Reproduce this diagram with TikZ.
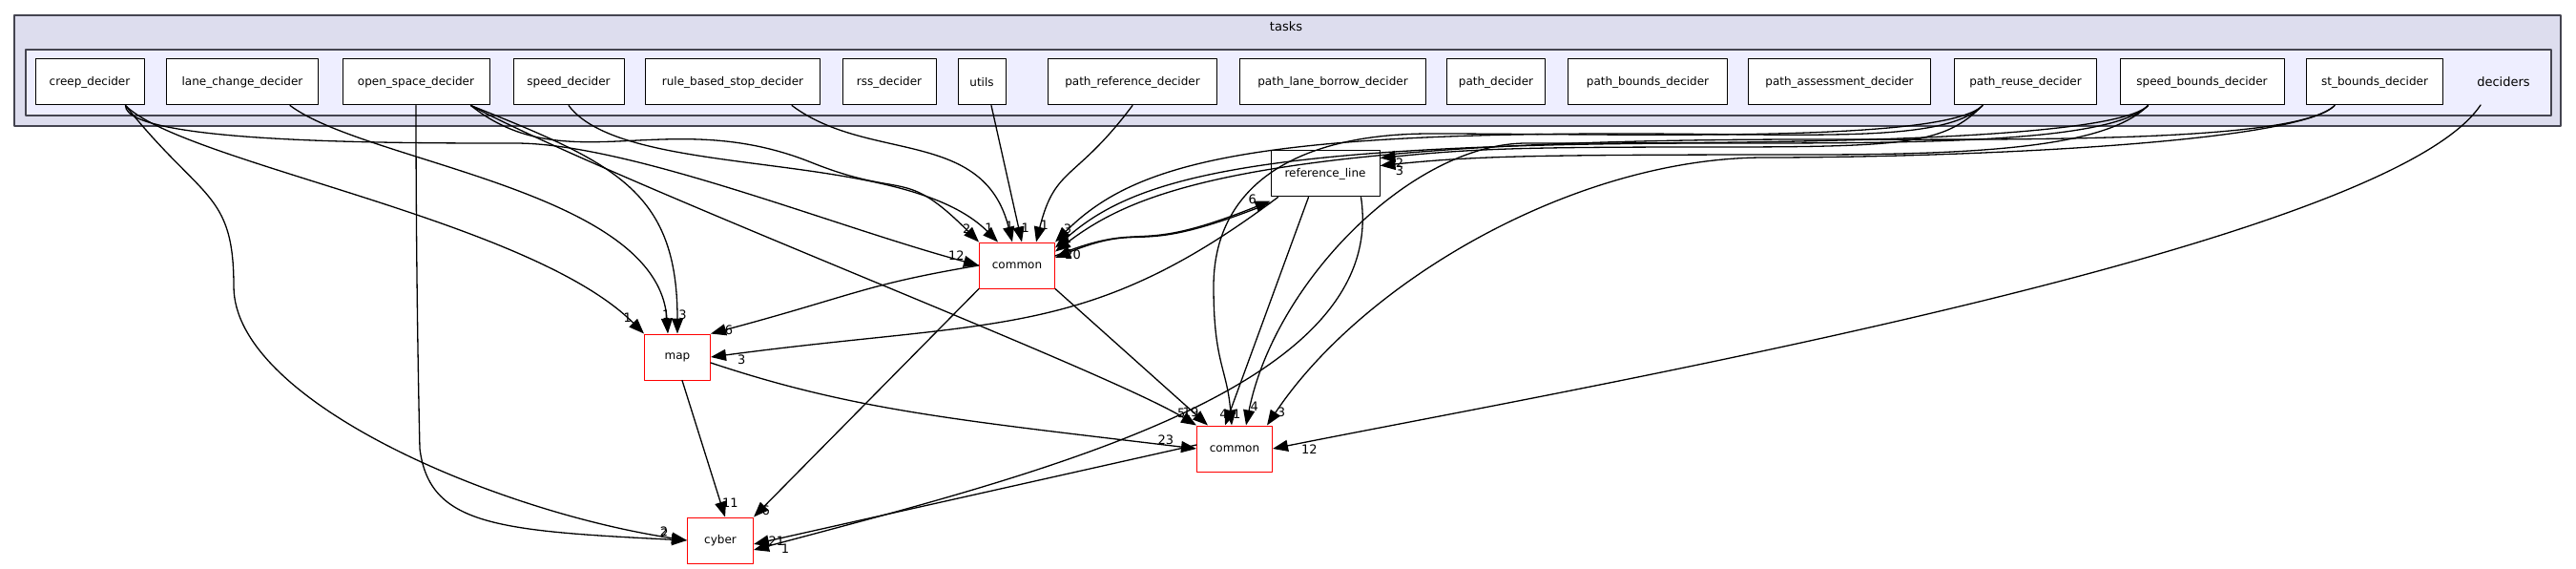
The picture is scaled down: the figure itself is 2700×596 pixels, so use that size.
\documentclass[tikz,border=0pt]{standalone}
\usepackage{fontspec}
\setmainfont{DejaVu Sans}
\usetikzlibrary{arrows}
\usetikzlibrary{arrows.meta}
\usetikzlibrary{positioning}

\begin{document}
\begin{tikzpicture}[line cap=round,line join=round,>={Triangle[length=16pt,width=12pt]},x=1pt,y=-1pt,
  dir/.style={draw=black,fill=white,line width=1pt,minimum height=48pt,inner sep=0pt,font=\fontsize{12}{12}\selectfont},
  ext/.style={dir,draw=red},
  dep/.style={->,line width=1.3pt},
  lbl/.style={font=\fontsize{13}{13}\selectfont,inner sep=1pt}]
\useasboundingbox (0,0) rectangle (2700,596);
% clusters
\draw [line width=1.5pt,fill={rgb,255:red,221;green,221;blue,238},draw={rgb,255:red,68;green,68;blue,80}] (15,16) rectangle (2684,132);
\draw [line width=1.5pt,fill={rgb,255:red,238;green,238;blue,255},draw={rgb,255:red,68;green,68;blue,80}] (27,52) rectangle (2674,121);
\node[lbl] (tasks) at (1348,28) {tasks};
\node[lbl] (deciders) at (2624,86) {deciders};
% deciders
\node[dir,minimum width=114pt] (creep) at (94,86) {creep\_decider};
\node[dir,minimum width=159pt] (lanechange) at (254,86) {lane\_change\_decider};
\node[dir,minimum width=154pt] (openspace) at (436,86) {open\_space\_decider};
\node[dir,minimum width=116pt] (speed) at (596,86) {speed\_decider};
\node[dir,minimum width=183pt] (rulestop) at (768,86) {rule\_based\_stop\_decider};
\node[dir,minimum width=98pt] (rss) at (932,86) {rss\_decider};
\node[dir,minimum width=50pt] (utils) at (1029,86) {utils};
\node[dir,minimum width=177pt] (pathref) at (1187,86) {path\_reference\_decider};
\node[dir,minimum width=195pt] (pathborrow) at (1397,86) {path\_lane\_borrow\_decider};
\node[dir,minimum width=103pt] (pathdec) at (1568,86) {path\_decider};
\node[dir,minimum width=167pt] (pathbounds) at (1727,86) {path\_bounds\_decider};
\node[dir,minimum width=191pt] (pathassess) at (1928,86) {path\_assessment\_decider};
\node[dir,minimum width=149pt] (pathreuse) at (2123,86) {path\_reuse\_decider};
\node[dir,minimum width=172pt] (speedbounds) at (2308,86) {speed\_bounds\_decider};
\node[dir,minimum width=143pt] (stbounds) at (2489,86) {st\_bounds\_decider};
% other dirs
\node[ext,minimum width=79pt] (pcommon) at (1066,278) {common};
\node[dir,minimum width=114pt] (refline) at (1389,182) {reference\_line};
\node[ext,minimum width=69pt] (map) at (710,374) {map};
\node[ext,minimum width=79pt] (mcommon) at (1294,470) {common};
\node[ext,minimum width=69pt] (cyber) at (755,566) {cyber};
\coordinate (dec) at (2600,110);
% dependencies
\draw[dep] ([xshift=-20pt]creep.south east) .. controls +(0,40) and +(-120,0) .. (540,150) .. controls +(120,0) and +(-150,-40) .. node[lbl,pos=.97,above left]{12} (pcommon.west);
\draw[dep] ([xshift=-20pt]creep.south east) .. controls +(60,60) and +(-120,-120) .. node[lbl,pos=.97,above left]{1} (map.north west);
\draw[dep] ([xshift=-20pt]creep.south east) .. controls +(80,100) and +(0,-100) .. (245,300) .. controls +(0,120) and +(-200,-30) .. node[lbl,pos=.97,above left]{2} (cyber.west);
\draw[dep] ([xshift=-30pt]lanechange.south east) .. controls +(80,60) and +(-10,-150) .. node[lbl,pos=.97,above]{1} ([xshift=-10pt]map.north);
\draw[dep] (openspace.south) .. controls +(0,200) and +(0,0) .. (440,470) .. controls +(10,80) and +(-200,-10) .. node[lbl,pos=.97,above left]{2} (cyber.west);
\draw[dep] ([xshift=-20pt]openspace.south east) .. controls +(150,60) and +(0,-150) .. node[lbl,pos=.97,above right]{3} (map.north);
\draw[dep] ([xshift=-20pt]openspace.south east) .. controls +(100,80) and +(-150,-60) .. (850,170) .. controls +(100,40) and +(-80,-80) .. node[lbl,pos=.97,above left]{2} (pcommon.north west);
\draw[dep] ([xshift=-20pt]openspace.south east) .. controls +(150,80) and +(-100,-60) .. node[lbl,pos=.97,above left]{5} (mcommon.north west);
\draw[dep] (speed.south) .. controls +(60,80) and +(-100,-100) .. node[lbl,pos=.97,above]{1} ([xshift=-20pt]pcommon.north);
\draw[dep] ([xshift=-30pt]rulestop.south east) .. controls +(80,60) and +(-30,-120) .. node[lbl,pos=.97,above]{1} ([xshift=-5pt]pcommon.north);
\draw[dep] ([xshift=10pt]utils.south) -- node[lbl,pos=.94,above right]{1} ([xshift=5pt]pcommon.north);
\draw[dep] (pathref.south) .. controls +(-60,80) and +(20,-80) .. node[lbl,pos=.95,above right]{1} ([xshift=20pt]pcommon.north);
\draw[dep] ([xshift=30pt]pathreuse.south west) .. controls +(-40,40) and +(200,0) .. (1700,140) .. controls +(-400,0) and +(80,-80) .. node[lbl,pos=.97,above right]{3} (pcommon.north east);
\draw[dep] ([xshift=30pt]speedbounds.south west) .. controls +(-40,40) and +(200,0) .. (1800,150) .. controls +(-500,0) and +(80,-70) .. node[lbl,pos=.97,right]{1} ([yshift=-6pt]pcommon.north east);
\draw[dep] ([xshift=30pt]stbounds.south west) .. controls +(-40,40) and +(200,0) .. (1900,146) .. controls +(-600,0) and +(80,-60) .. node[lbl,pos=.97,right]{1} ([yshift=-10pt]pcommon.north east);
\draw[dep] ([xshift=30pt]pathreuse.south west) .. controls +(-40,40) and +(200,0) .. (1800,154) .. controls +(-200,0) and +(100,-10) .. node[lbl,pos=.95,below right]{2} ([yshift=-8pt]refline.north east);
\draw[dep] ([xshift=30pt]speedbounds.south west) .. controls +(-40,40) and +(200,0) .. (1900,162) .. controls +(-300,0) and +(100,-10) .. node[lbl,pos=.95,below right]{3} ([yshift=-16pt]refline.north east);
\draw[dep] ([xshift=30pt]speedbounds.south west) .. controls +(-40,40) and +(200,0) .. (1600,150) .. controls +(-120,0) and +(30,-150) .. node[lbl,pos=.97,above right]{4} ([xshift=12pt]mcommon.north);
\draw[dep] ([xshift=30pt]pathreuse.south west) .. controls +(-40,40) and +(200,0) .. (1500,140) .. controls +(-150,0) and +(0,-100) .. (1272,300) .. controls +(0,80) and +(-5,-60) .. node[lbl,pos=.97,above right]{1} ([xshift=-3pt]mcommon.north);
\draw[dep] ([xshift=30pt]stbounds.south west) .. controls +(-40,40) and +(200,0) .. (1850,165) .. controls +(-200,0) and +(100,-150) .. node[lbl,pos=.97,right]{3} ([xshift=-6pt]mcommon.north east);
\draw[dep] (dec) .. controls +(-100,150) and +(300,-60) .. node[lbl,pos=.97,below right]{12} (mcommon.east);
\draw[dep] ([yshift=-6pt]refline.south west) .. controls +(-150,60) and +(100,-40) .. node[lbl,pos=.97,right]{20} ([yshift=8pt]pcommon.east);
\draw[dep] ([yshift=10pt]pcommon.east) .. controls +(100,-40) and +(-150,60) .. node[lbl,pos=.97,above left]{6} ([yshift=-4pt]refline.south west);
\draw[dep] ([xshift=8pt]refline.south west) .. controls +(-200,150) and +(300,-40) .. node[lbl,pos=.97,below right]{3} (map.east);
\draw[dep] ([xshift=40pt]refline.south west) -- node[lbl,pos=.95,left]{4} ([xshift=-10pt]mcommon.north);
\draw[dep] ([xshift=-20pt]refline.south east) .. controls +(30,200) and +(300,-80) .. node[lbl,pos=.97,below right]{1} ([yshift=-10pt]cyber.east);
\draw[dep] (pcommon.west) .. controls +(-120,20) and +(150,-40) .. node[lbl,pos=.97,right]{6} (map.north east);
\draw[dep] (pcommon.south west) -- node[lbl,pos=.97,right]{6} (cyber.north east);
\draw[dep] (pcommon.south east) -- node[lbl,pos=.95,above left]{19} ([xshift=-28pt]mcommon.north);
\draw[dep] ([yshift=-6pt]map.east) .. controls +(150,50) and +(-250,-30) .. node[lbl,pos=.97,above left]{23} (mcommon.west);
\draw[dep] ([xshift=5pt]map.south) -- node[lbl,pos=.9,right]{11} ([xshift=5pt]cyber.north);
\draw[dep] ([yshift=4pt]mcommon.west) -- node[lbl,pos=.97,right]{21} ([yshift=-4pt]cyber.east);
\end{tikzpicture}
\end{document}
